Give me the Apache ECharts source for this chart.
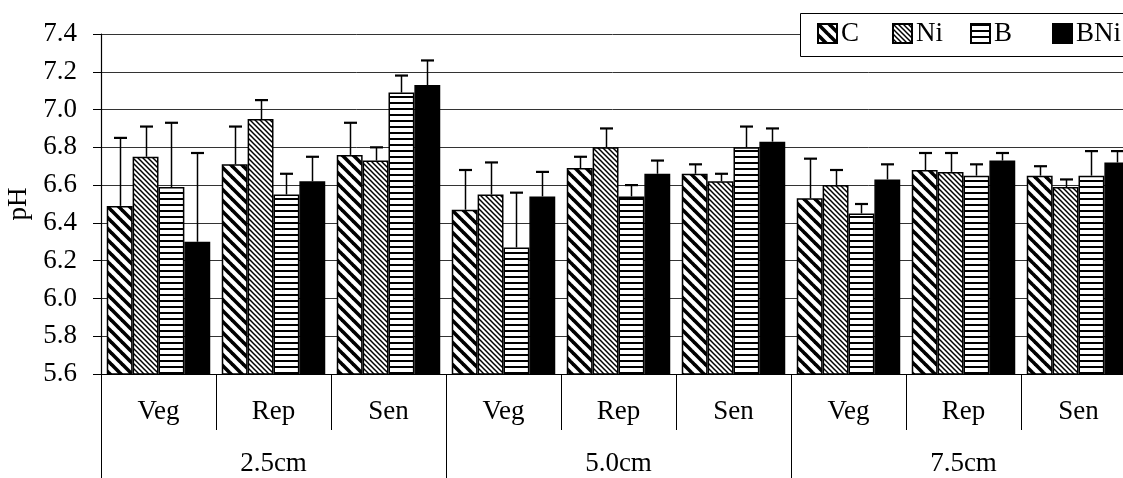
<!DOCTYPE html>
<html>
<head>
<meta charset="utf-8">
<script src="https://cdn.jsdelivr.net/npm/echarts@6/dist/echarts.min.js"></script>
<style>
html,body{margin:0;padding:0;background:#fff;overflow:hidden;}
#chart{width:1123px;height:478px;}
</style>
</head>
<body>
<div id="chart"></div>
<script>
// ---- data ----
const stages = ['Veg','Rep','Sen','Veg','Rep','Sen','Veg','Rep','Sen'];
const depths = ['2.5cm','5.0cm','7.5cm'];
const seriesNames = ['C','Ni','B','BNi'];
const valC   = [6.49, 6.71, 6.76, 6.47, 6.69, 6.66, 6.53, 6.68, 6.65];
const valNi  = [6.75, 6.95, 6.73, 6.55, 6.80, 6.62, 6.60, 6.67, 6.59];
const valB   = [6.59, 6.55, 7.09, 6.27, 6.54, 6.80, 6.45, 6.65, 6.65];
const valBNi = [6.30, 6.62, 7.13, 6.54, 6.66, 6.83, 6.63, 6.73, 6.72];
const errC   = [0.36, 0.20, 0.17, 0.21, 0.06, 0.05, 0.21, 0.09, 0.05];
const errNi  = [0.16, 0.10, 0.07, 0.17, 0.10, 0.04, 0.08, 0.10, 0.04];
const errB   = [0.34, 0.11, 0.09, 0.29, 0.06, 0.11, 0.05, 0.06, 0.13];
const errBNi = [0.47, 0.13, 0.13, 0.13, 0.07, 0.07, 0.08, 0.04, 0.06];

const values = [valC, valNi, valB, valBNi];
const errors = [errC, errNi, errB, errBNi];

// ---- patterns ----
function diagPattern(size, lw) {
  const c = document.createElement('canvas');
  c.width = size; c.height = size;
  const ctx = c.getContext('2d');
  ctx.fillStyle = '#fff'; ctx.fillRect(0,0,size,size);
  ctx.strokeStyle = '#000'; ctx.lineWidth = lw;
  for (let k = -1; k <= 1; k++) {
    ctx.beginPath();
    ctx.moveTo(k*size - 1, -1);
    ctx.lineTo(k*size + size + 1, size + 1);
    ctx.stroke();
  }
  return c;
}
function hPattern(h, lw) {
  const c = document.createElement('canvas');
  c.width = 4; c.height = h;
  const ctx = c.getContext('2d');
  ctx.fillStyle = '#fff'; ctx.fillRect(0,0,4,h);
  ctx.fillStyle = '#000'; ctx.fillRect(0,0,4,lw);
  return c;
}
const fills = [
  {image: diagPattern(11, 3.6), repeat: 'repeat'},
  {image: diagPattern(5, 1.5), repeat: 'repeat'},
  {image: hPattern(6, 2), repeat: 'repeat'},
  '#000'
];

const FONT = 'Liberation Serif';
const gapRatio = 0.10;

const barSeries = seriesNames.map((name, i) => ({
  name: name,
  type: 'bar',
  xAxisIndex: 0,
  barGap: '0%',
  barCategoryGap: (gapRatio*100) + '%',
  data: values[i],
  itemStyle: {color: fills[i], borderColor: '#000', borderWidth: 1.5},
  emphasis: {disabled: true},
  z: 2
}));

const errData = [];
for (let s = 0; s < 4; s++) {
  for (let k = 0; k < stages.length; k++) {
    errData.push([k, s, values[s][k], errors[s][k]]);
  }
}

const errSeries = {
  type: 'custom',
  xAxisIndex: 0,
  z: 5,
  encode: {x: 0, y: 2},
  data: errData,
  renderItem: function (params, api) {
    const cat = api.value(0), si = api.value(1), v = api.value(2), e = api.value(3);
    const p0 = api.coord([cat, v]);
    const p1 = api.coord([cat, v + e]);
    const band = api.size([1, 0])[0];
    const gw = band * (1 - gapRatio);
    const bw = gw / 4;
    const x = Math.round(p0[0] - gw/2 + bw*(si + 0.5)) + 0.5;
    const cap = 6.5;
    return {
      type: 'group',
      children: [
        {type: 'line', shape: {x1: x, y1: p0[1], x2: x, y2: p1[1]}, style: {stroke: '#000', lineWidth: 1.5}},
        {type: 'line', shape: {x1: x - cap, y1: p1[1], x2: x + cap, y2: p1[1]}, style: {stroke: '#000', lineWidth: 2.2}}
      ]
    };
  }
};

const legendLefts = [817, 892, 970, 1052];
const legends = seriesNames.map((n, i) => ({
  data: [n],
  left: legendLefts[i],
  top: 20,
  padding: 0,
  itemWidth: 19,
  itemHeight: 19,
  icon: 'rect',
  selectedMode: false,
  z: 6,
  textStyle: {fontFamily: FONT, fontSize: 27, color: '#000', padding: [0,0,0,-1]}
}));

const option = {
  animation: false,
  backgroundColor: '#fff',
  grid: {left: 101, top: 34, bottom: 104, width: 1035, containLabel: false, outerBoundsMode: 'none'},
  legend: legends,
  graphic: [{
    type: 'rect', z: 5,
    shape: {x: 800.5, y: 13.5, width: 340, height: 43},
    style: {fill: '#fff', stroke: '#000', lineWidth: 1}
  }],
  xAxis: [
    {
      type: 'category', data: stages, position: 'bottom',
      axisLine: {show: true, lineStyle: {color: '#000', width: 1.2}},
      axisTick: {show: true, interval: 0, length: 56, lineStyle: {color: '#000', width: 1}},
      axisLabel: {interval: 0, margin: 24, fontFamily: FONT, fontSize: 27, color: '#000'},
      splitLine: {show: false}
    },
    {
      type: 'category', data: depths, position: 'bottom',
      axisLine: {show: false},
      axisTick: {show: true, interval: 0, length: 110, lineStyle: {color: '#000', width: 1}},
      axisLabel: {interval: 0, margin: 76, fontFamily: FONT, fontSize: 27, color: '#000'},
      splitLine: {show: false}
    }
  ],
  yAxis: {
    type: 'value', min: 5.6, max: 7.4, interval: 0.2,
    name: 'pH', nameLocation: 'middle', nameGap: 68,
    nameTextStyle: {fontFamily: FONT, fontSize: 27, color: '#000'},
    axisLine: {show: true, lineStyle: {color: '#000', width: 1.2}},
    axisTick: {show: true, length: 8, lineStyle: {color: '#000'}},
    axisLabel: {margin: 24, fontFamily: FONT, fontSize: 27, color: '#000',
      formatter: v => v.toFixed(1)},
    splitLine: {show: true, lineStyle: {color: '#333', width: 1}}
  },
  series: barSeries.concat([errSeries])
};

const chart = echarts.init(document.getElementById('chart'), null, {renderer: 'canvas'});
chart.setOption(option);
</script>
</body>
</html>
